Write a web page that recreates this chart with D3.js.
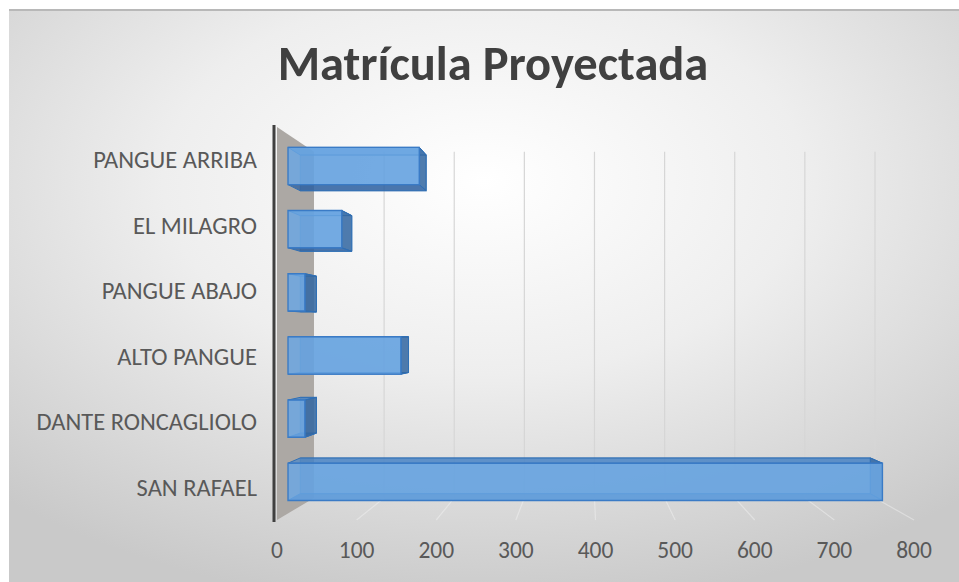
<!DOCTYPE html>
<html>
<head>
<meta charset="utf-8">
<script src="https://cdn.jsdelivr.net/npm/d3@7"></script>
<style>
  html, body { margin: 0; padding: 0; background: #ffffff; }
  svg { display: block; }
  text { font-family: Carlito, Calibri, Lato, "Open Sans", sans-serif; }
</style>
</head>
<body>
<svg id="chart" width="959" height="582"></svg>
<script>
// ---- data ----
const categories = ["PANGUE ARRIBA", "EL MILAGRO", "PANGUE ABAJO", "ALTO PANGUE", "DANTE RONCAGLIOLO", "SAN RAFAEL"];
const values = [171, 70, 22, 147, 22, 774];
const tickValues = [0, 100, 200, 300, 400, 500, 600, 700, 800];
const chartTitle = "Matrícula Proyectada";

// ---- layout ----
const W = 959, H = 582;
const svg = d3.select("#chart");
const defs = svg.append("defs");

const bg = defs.append("radialGradient").attr("id", "bgGrad")
  .attr("cx", "50%").attr("cy", "30%").attr("r", "75%");
bg.append("stop").attr("offset", "0%").attr("stop-color", "#ffffff");
bg.append("stop").attr("offset", "45%").attr("stop-color", "#eeeeee");
bg.append("stop").attr("offset", "100%").attr("stop-color", "#c9c9c9");

svg.append("rect").attr("x", 9).attr("y", 9).attr("width", W - 9).attr("height", H - 9)
  .attr("fill", "url(#bgGrad)");
svg.append("line").attr("x1", 9).attr("x2", W).attr("y1", 10).attr("y2", 10)
  .attr("stroke", "#b8b8b8").attr("stroke-width", 2);

// front-plane scales
const x = d3.scaleLinear().domain([0, 800]).range([277, 914]);
const y = d3.scaleBand().domain(categories).range([127, 520]).paddingInner(0.41).paddingOuter(0.205);

// perspective: depth z in [0,1] (front -> back)
const vp = { x: 587, y: 335 };
const sDepth = d3.scaleLinear().domain([0, 1]).range([1, 0.8807]);
function proj(X, Y, z) {
  const s = sDepth(z);
  return [vp.x + (X - vp.x) * s, vp.y + (Y - vp.y) * s];
}
const line = d3.line();
const yTop = 127, yBot = 520;

// side wall (at value 0)
svg.append("path")
  .attr("d", line([proj(x(0), yTop, 0), proj(x(0), yTop, 1), proj(x(0), yBot, 1), proj(x(0), yBot, 0)]) + "Z")
  .attr("fill", "#aca8a4");

// back wall gridlines
svg.append("g").selectAll("line").data(tickValues.filter(d => d > 0)).join("line")
  .attr("x1", d => proj(x(d), yTop, 1)[0]).attr("y1", d => proj(x(d), yTop, 1)[1])
  .attr("x2", d => proj(x(d), yBot, 1)[0]).attr("y2", d => proj(x(d), yBot, 1)[1])
  .attr("stroke", "#d6d6d6").attr("stroke-width", 1.2);

// floor gridlines
svg.append("g").selectAll("line").data(tickValues.filter(d => d > 0)).join("line")
  .attr("x1", d => proj(x(d), yBot, 1)[0]).attr("y1", d => proj(x(d), yBot, 1)[1])
  .attr("x2", d => proj(x(d), yBot, 0)[0]).attr("y2", d => proj(x(d), yBot, 0)[1])
  .attr("stroke", "#f4f4f4").attr("stroke-opacity", 0.45).attr("stroke-width", 1.2);

// bars (3D boxes)
const z0 = 0.2976, z1 = 0.629;
const barData = categories.map((c, i) => ({ cat: c, v: values[i] }));

function faces(d) {
  const X0 = x(0), X1 = x(d.v), Y0 = y(d.cat), Y1 = y(d.cat) + y.bandwidth();
  const F = [proj(X0, Y0, z0), proj(X1, Y0, z0), proj(X1, Y1, z0), proj(X0, Y1, z0)];
  const B = [proj(X0, Y0, z1), proj(X1, Y0, z1), proj(X1, Y1, z1), proj(X0, Y1, z1)];
  return {
    back: B,
    top: [F[0], F[1], B[1], B[0]],
    bottom: [F[3], F[2], B[2], B[3]],
    end: [F[1], B[1], B[2], F[2]],
    front: F
  };
}

const bars = svg.append("g");
barData.forEach(d => {
  const f = faces(d);
  const g = bars.append("g");
  g.append("path").attr("d", line(f.back) + "Z")
    .attr("fill", "#2e6db4").attr("fill-opacity", 0.45)
    .attr("stroke", "#2e6db4").attr("stroke-opacity", 0.5).attr("stroke-width", 1);
  g.append("path").attr("d", line(f.top) + "Z")
    .attr("fill", "#4a86c8").attr("fill-opacity", 0.7)
    .attr("stroke", "#2f6fb5").attr("stroke-width", 1);
  g.append("path").attr("d", line(f.bottom) + "Z")
    .attr("fill", "#2d5f9e").attr("fill-opacity", 0.75)
    .attr("stroke", "#2f6fb5").attr("stroke-width", 1);
  g.append("path").attr("d", line(f.end) + "Z")
    .attr("fill", "#34679f").attr("fill-opacity", 0.75)
    .attr("stroke", "#2f6fb5").attr("stroke-width", 1);
  g.append("path").attr("d", line(f.front) + "Z")
    .attr("fill", "#6aa7e4").attr("fill-opacity", 0.82)
    .attr("stroke", "#3a7bc6").attr("stroke-width", 1.4);
});

// dark vertical axis line (front edge of wall)
svg.append("line").attr("x1", x(0) - 3).attr("x2", x(0) - 3).attr("y1", 125).attr("y2", 522)
  .attr("stroke", "#404040").attr("stroke-width", 3);

// category labels
svg.append("g").selectAll("text").data(categories).join("text")
  .attr("x", 257).attr("y", d => y(d) + y.bandwidth() / 2)
  .attr("dy", "0.35em").attr("text-anchor", "end")
  .attr("font-size", 24.5).attr("fill", "#595959")
  .text(d => d);

// value tick labels
svg.append("g").selectAll("text").data(tickValues).join("text")
  .attr("x", d => x(d)).attr("y", 558)
  .attr("text-anchor", "middle")
  .attr("font-size", 23.5).attr("fill", "#595959")
  .text(d => d3.format("d")(d));

// title
svg.append("text").attr("x", 493).attr("y", 80)
  .attr("text-anchor", "middle").attr("font-size", 48.5).attr("font-weight", "bold")
  .attr("fill", "#404040")
  .text(chartTitle);
</script>
</body>
</html>
